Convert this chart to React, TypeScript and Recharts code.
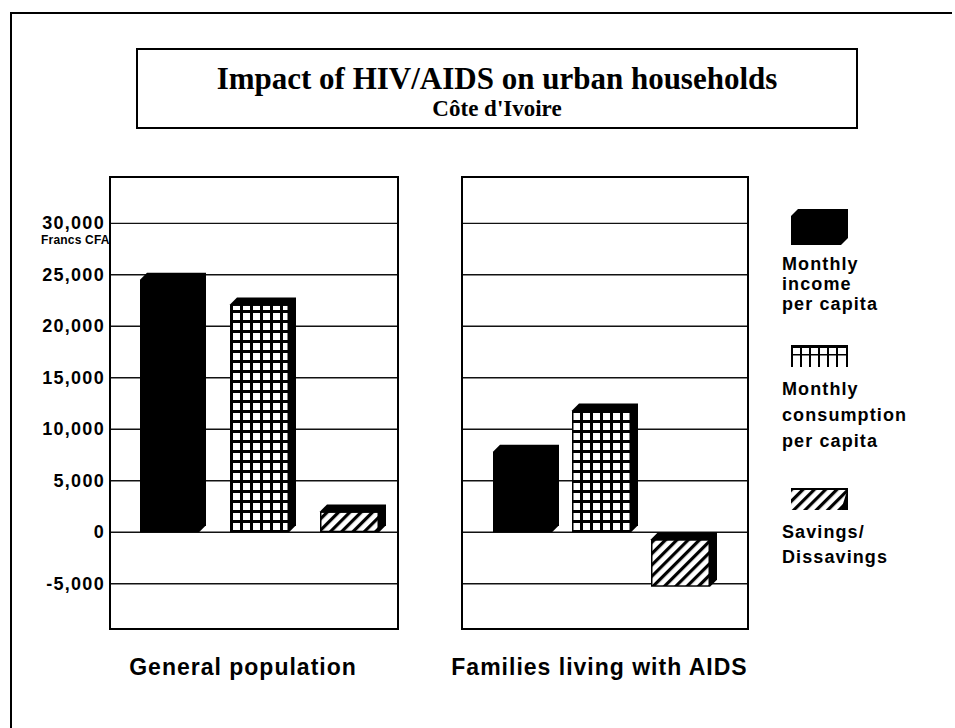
import React from 'react'
import { BarChart, Bar, XAxis, YAxis, CartesianGrid } from 'recharts'

// values (Francs CFA)
const categories = ['General population', 'Families living with AIDS']
const incomePerCapita = [25200, 8500]
const consumptionPerCapita = [22800, 12500]
const savingsDissavings = [2700, -5300]
const yTicks = [-5000, 0, 5000, 10000, 15000, 20000, 25000, 30000]
const yDomain = [-9400, 34500]

const rows = categories.map((name, i) => ({
  name,
  income: incomePerCapita[i],
  consumption: consumptionPerCapita[i],
  savings: savingsDissavings[i],
}))

const SANS = '"Liberation Sans", Arial, Helvetica, sans-serif'
const SERIF = '"Liberation Serif", "Times New Roman", serif'
const DEPTH = 7
const PLOT_TOP = 177
const PLOT_BOTTOM = 629
const XAXIS_H = 60

function Box3D(props: any) {
  const { x, y, width, height, fill } = props
  if (x == null || !width) return null
  const top = Math.min(y, y + height)
  const bot = Math.max(y, y + height)
  const d = DEPTH
  const w = width
  return (
    <g>
      <polygon
        points={`${x},${top + d} ${x + d},${top} ${x + w},${top} ${x + w},${bot - d} ${x + w - d},${bot} ${x},${bot}`}
        fill="#000"
      />
      <rect x={x + 1.5} y={top + d + 1.5} width={w - d - 3} height={Math.max(0, bot - top - d - 3)} fill={fill} />
    </g>
  )
}

const YTick = (props: any) => {
  const { x, y, payload } = props
  return (
    <text x={x} y={y} dy="0.33em" textAnchor="end" fontFamily={SANS} fontWeight="bold" fontSize={18} letterSpacing={1.3} fill="#000">
      {Number(payload.value).toLocaleString('en-US')}
    </text>
  )
}

const NoTick = () => <g />

const makeXTick = (dx: number) => (props: any) => {
  const { x, y, payload } = props
  return (
    <text x={x + dx} y={y + 46} textAnchor="middle" fontFamily={SANS} fontWeight="bold" fontSize={23} letterSpacing={1} fill="#000">
      {payload.value}
    </text>
  )
}

function Panel({ row, left, width, marginLeft, marginRight, axisWidth, showTicks, barGap, padLeft, labelDx }: any) {
  const chartH = 728
  return (
    <div style={{ position: 'absolute', left, top: 0 }}>
      <BarChart
        width={width}
        height={chartH}
        data={[row]}
        margin={{ top: PLOT_TOP, right: marginRight, left: marginLeft, bottom: chartH - PLOT_BOTTOM - XAXIS_H }}
        barGap={barGap}
      >
        <CartesianGrid vertical={false} stroke="#111" strokeWidth={1.4} />
        <XAxis
          dataKey="name"
          height={XAXIS_H}
          axisLine={false}
          tickLine={false}
          tickSize={0}
          tickMargin={0}
          padding={{ left: padLeft, right: 0 }}
          tick={makeXTick(labelDx)}
          interval={0}
        />
        <YAxis
          type="number"
          domain={yDomain}
          ticks={yTicks}
          width={axisWidth}
          axisLine={false}
          tickLine={false}
          tickSize={5}
          tickMargin={0}
          tick={showTicks ? <YTick /> : <NoTick />}
          allowDataOverflow
        />
        <Bar dataKey="income" fill="#000" barSize={66} shape={<Box3D />} isAnimationActive={false} />
        <Bar dataKey="consumption" fill="url(#gridFill)" barSize={66} shape={<Box3D />} isAnimationActive={false} />
        <Bar dataKey="savings" fill="url(#hatchFill)" barSize={66} shape={<Box3D />} isAnimationActive={false} />
      </BarChart>
    </div>
  )
}

const abs = (l: number, t: number, extra: any = {}) => ({ position: 'absolute' as const, left: l, top: t, ...extra })

export default function App() {
  const legendText = { fontFamily: SANS, fontWeight: 'bold' as const, fontSize: 18, letterSpacing: 1.1, color: '#000' }
  return (
    <div style={{ position: 'fixed', left: 0, top: 0, width: 955, height: 728, background: '#fff', overflow: 'hidden' }}>
      <svg width={0} height={0} style={{ position: 'absolute' }}>
        <defs>
          <pattern id="gridFill" patternUnits="userSpaceOnUse" width={10} height={10}>
            <rect width={10} height={10} fill="#000" />
            <rect x={3} y={3} width={7} height={7} fill="#fff" />
          </pattern>
          <pattern id="hatchFill" patternUnits="userSpaceOnUse" width={8} height={8} patternTransform="rotate(45)">
            <rect width={8} height={8} fill="#fff" />
            <rect width={3.2} height={8} fill="#000" />
          </pattern>
        </defs>
      </svg>

      {/* page frame (scan cut off at the bottom and right) */}
      <div style={abs(10, 12, { width: 940, height: 760, borderTop: '2px solid #000', borderLeft: '2px solid #000' })} />

      {/* title box */}
      <div style={abs(136, 48, { width: 722, height: 81, border: '2px solid #000', boxSizing: 'border-box', textAlign: 'center', fontFamily: SERIF, fontWeight: 'bold', color: '#000' })}>
        <div style={{ fontSize: 31, lineHeight: '34px', marginTop: 12 }}>Impact of HIV/AIDS on urban households</div>
        <div style={{ fontSize: 23, lineHeight: '26px', marginTop: 0 }}>Côte d'Ivoire</div>
      </div>

      <Panel row={rows[0]} left={0} width={400} marginLeft={0} marginRight={3} axisWidth={110} showTicks barGap={24} padLeft={19} labelDx={-20} />
      <Panel row={rows[1]} left={400} width={400} marginLeft={61} marginRight={53} axisWidth={1} showTicks={false} barGap={13} padLeft={0} labelDx={-5} />

      {/* panel frames */}
      <div style={abs(109, PLOT_TOP - 1, { width: 290, height: PLOT_BOTTOM - PLOT_TOP + 2, border: '2px solid #000', boxSizing: 'border-box' })} />
      <div style={abs(461, PLOT_TOP - 1, { width: 288, height: PLOT_BOTTOM - PLOT_TOP + 2, border: '2px solid #000', boxSizing: 'border-box' })} />

      <div style={abs(41, 233, { fontFamily: SANS, fontWeight: 'bold', fontSize: 12, letterSpacing: 0.2, color: '#000' })}>Francs CFA</div>

      {/* legend */}
      <svg style={abs(791, 209)} width={57} height={36}>
        <polygon points={`0,${DEPTH} ${DEPTH},0 57,0 57,${36 - DEPTH} ${57 - DEPTH},36 0,36`} fill="#000" />
      </svg>
      <div style={abs(782, 254, { ...legendText, lineHeight: '20px' })}>Monthly<br />income<br />per capita</div>

      <svg style={abs(791, 345)} width={57} height={22}>
        <rect x={0} y={0} width={57} height={3} fill="#000" />
        <rect x={0} y={9} width={57} height={1.5} fill="#000" />
        {[0, 9, 18, 27, 36, 45, 55].map(v => (
          <rect key={v} x={v} y={0} width={2} height={22} fill="#000" />
        ))}
      </svg>
      <div style={abs(782, 376, { ...legendText, lineHeight: '26px' })}>Monthly<br />consumption<br />per capita</div>

      <svg style={abs(791, 488)} width={57} height={22}>
        <rect x={0} y={0} width={57} height={22} fill="url(#hatchFill)" />
        <rect x={0} y={0} width={57} height={2} fill="#000" />
        <polygon points="57,0 57,22 50,22" fill="#000" />
      </svg>
      <div style={abs(782, 520, { ...legendText, lineHeight: '25px' })}>Savings/<br />Dissavings</div>
    </div>
  )
}
